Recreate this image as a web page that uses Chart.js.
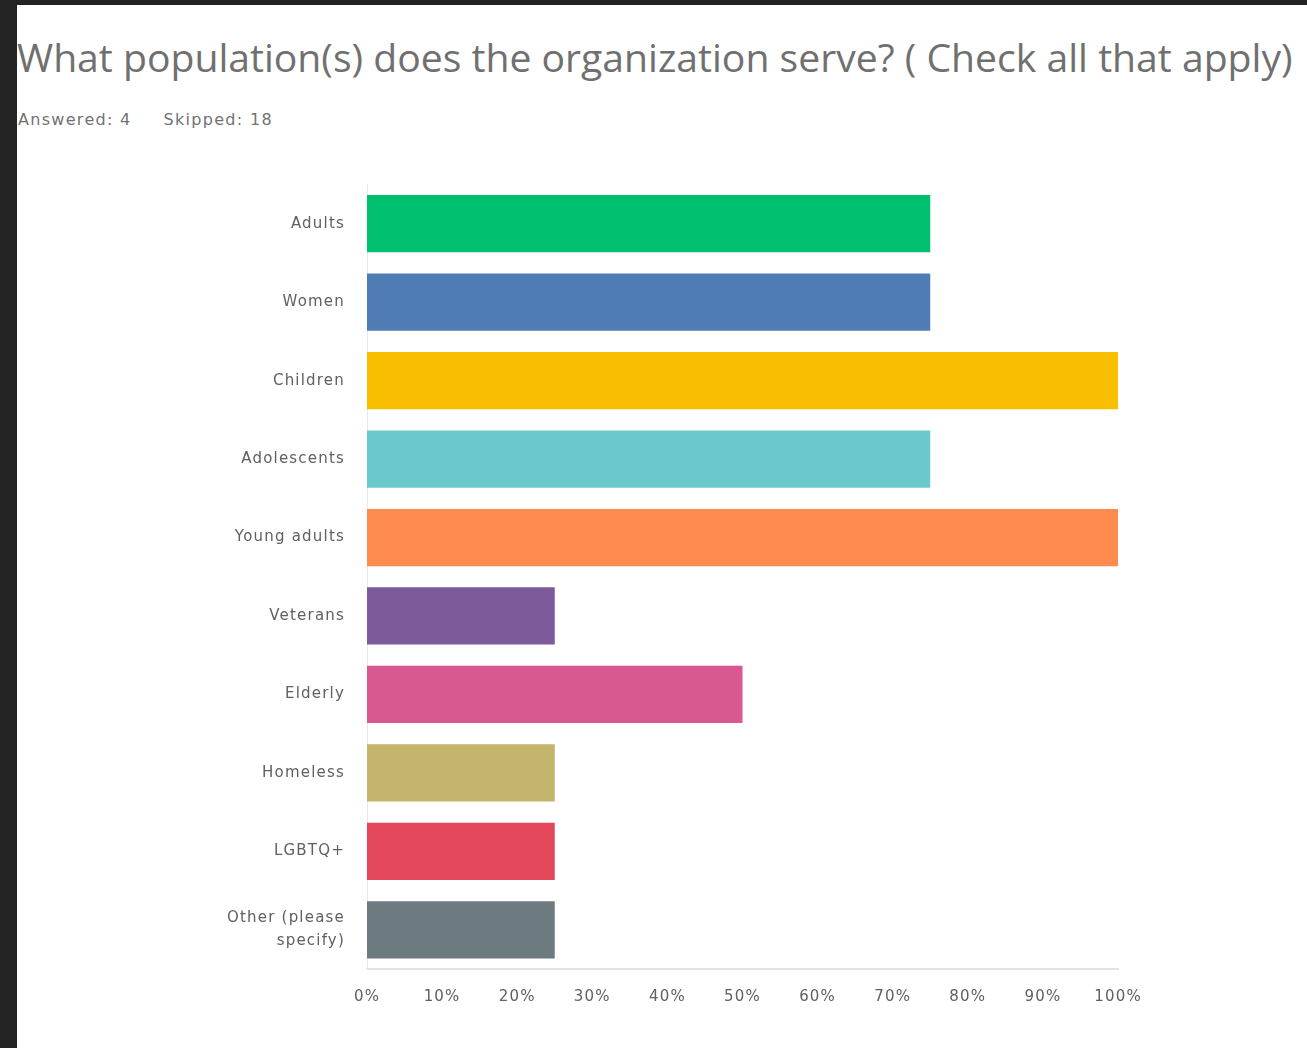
<!DOCTYPE html>
<html>
<head>
<meta charset="utf-8">
<script src="https://cdn.jsdelivr.net/npm/chart.js@4.4.1/dist/chart.umd.min.js"></script>
<style>
    html, body { margin: 0; padding: 0; background: #232323; width: 1307px; height: 1048px; overflow: hidden; }
    #panel { position: absolute; left: 17px; top: 5px; width: 1290px; height: 1043px; background: #fff; }
    #title { position: absolute; left: 0; top: 25px; white-space: nowrap; font-family: "Open Sans", sans-serif; font-size: 38px; color: #707070; }
    #meta { position: absolute; left: 1px; top: 105px; font-family: "DejaVu Sans", sans-serif; font-size: 16px; letter-spacing: 1.3px; color: #727272; }
    #meta span { margin-right: 32px; }
    #wrap { position: absolute; left: 0; top: 135px; width: 1290px; height: 908px; }
</style>
</head>
<body>
<div id="panel">
    <div id="title">What population(s) does the organization serve? ( Check all that apply)</div>
    <div id="meta"><span>Answered: 4</span><span>Skipped: 18</span></div>
    <div id="wrap"><canvas id="popChart" width="1290" height="908"></canvas></div>
</div>
<script>
const categories = ['Adults', 'Women', 'Children', 'Adolescents', 'Young adults', 'Veterans', 'Elderly', 'Homeless', 'LGBTQ+', ['Other (please', 'specify)']];
const percentages = [75, 75, 100, 75, 100, 25, 50, 25, 25, 25];
const barColors = ['#00bf6f', '#507cb6', '#f9be00', '#6bc8cd', '#ff8b4f', '#7d5a9a', '#d8598f', '#c4b46c', '#e2475a', '#6d7a80'];
const xTicks = [0, 10, 20, 30, 40, 50, 60, 70, 80, 90, 100];

// stretch the title to the width it has in the screenshot
const title = document.getElementById('title');
const w = title.getBoundingClientRect().width;
title.style.fontSize = (38 * 1276 / w) + 'px';

// the survey font runs wide, so space the canvas letters out a bit
const wideText = {
    id: 'wideText',
    beforeUpdate: chart => { chart.ctx.letterSpacing = '1.2px'; },
    beforeDraw: chart => { chart.ctx.letterSpacing = '1.2px'; }
};

const ctx = document.getElementById('popChart').getContext('2d');
new Chart(ctx, {
    type: 'bar',
    data: {
        labels: categories,
        datasets: [{
            data: percentages,
            backgroundColor: barColors,
            barPercentage: 0.73,
            categoryPercentage: 1
        }]
    },
    plugins: [wideText],
    options: {
        indexAxis: 'y',
        responsive: false,
        animation: false,
        layout: { padding: { top: 29, right: 189, bottom: 0, left: 0 } },
        plugins: { legend: { display: false }, tooltip: { enabled: false } },
        scales: {
            x: {
                min: 0,
                max: 100,
                afterBuildTicks: function(scale) {
                    scale.ticks = xTicks.map(v => ({ value: v }));
                },
                afterFit: function(scale) { scale.height = 79; },
                grid: { display: false, drawTicks: false },
                border: { display: true, color: '#e3e3e3', width: 2 },
                ticks: {
                    padding: 19,
                    color: '#606060',
                    font: { family: 'DejaVu Sans', size: 15 },
                    callback: v => v + '%'
                }
            },
            y: {
                afterFit: function(scale) { scale.width = 350; },
                grid: { display: false, drawTicks: false },
                border: { display: true, color: '#e8e8e8', width: 1 },
                ticks: {
                    padding: 22,
                    color: '#606060',
                    font: { family: 'DejaVu Sans', size: 15, lineHeight: 1.5 }
                }
            }
        }
    }
});
</script>
</body>
</html>
